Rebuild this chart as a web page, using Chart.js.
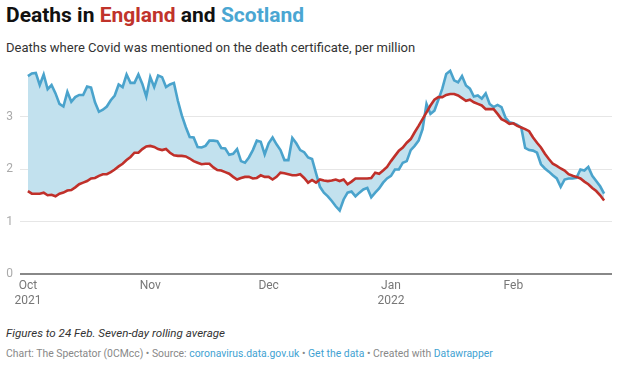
<!DOCTYPE html>
<html>
<head>
<meta charset="utf-8">
<script src="https://cdn.jsdelivr.net/npm/chart.js@4"></script>
<style>
  body { margin: 0; background: #fff; font-family: Roboto, sans-serif; }
  #wrap { position: relative; width: 620px; height: 370px; overflow: hidden; }
  .title { position: absolute; left: 6px; top: 3px; font-size: 21px; font-weight: 700; color: #111; white-space: nowrap; }
  .sub { position: absolute; left: 6px; top: 40px; font-size: 13px; color: #333; white-space: nowrap; }
  .note { position: absolute; left: 6px; top: 326px; font-size: 11.6px; font-style: italic; color: #333; white-space: nowrap; }
  .credit { position: absolute; left: 6px; top: 347px; font-size: 10.4px; color: #888; white-space: nowrap; }
  .credit a { color: #3fa2d2; text-decoration: none; }
  #box { position: absolute; left: 0; top: 58px; width: 620px; height: 250px; }
</style>
</head>
<body>
<div id="wrap">
  <div class="title">Deaths in <span style="color:#c0332b">England</span> and <span style="color:#4aa6d2">Scotland</span></div>
  <div class="sub">Deaths where Covid was mentioned on the death certificate, per million</div>
  <div id="box"><canvas id="chart"></canvas></div>
  <div class="note">Figures to 24 Feb. Seven-day rolling average</div>
  <div class="credit">Chart: The Spectator (0CMcc) • Source: <a>coronavirus.data.gov.uk</a> • <a>Get the data</a> • Created with <a>Datawrapper</a></div>
</div>
<script>
// days since 1 Oct 2021 (0 .. 146 = 24 Feb 2022)
const scotland = [
  3.77, 3.82, 3.83, 3.60, 3.80, 3.52, 3.60, 3.44, 3.24, 3.19,
  3.47, 3.28, 3.37, 3.41, 3.41, 3.57, 3.55, 3.27, 3.09, 3.13,
  3.19, 3.31, 3.40, 3.61, 3.56, 3.80, 3.64, 3.64, 3.80, 3.62,
  3.38, 3.75, 3.56, 3.78, 3.75, 3.56, 3.61, 3.64, 3.30, 3.02,
  2.80, 2.61, 2.60, 2.42, 2.41, 2.44, 2.54, 2.54, 2.53, 2.40,
  2.39, 2.27, 2.29, 2.38, 2.15, 2.12, 2.22, 2.36, 2.54, 2.52,
  2.28, 2.49, 2.60, 2.47, 2.36, 2.17, 2.17, 2.59, 2.49, 2.36,
  2.32, 2.22, 2.19, 1.92, 1.66, 1.55, 1.48, 1.39, 1.29, 1.21,
  1.42, 1.55, 1.57, 1.48, 1.55, 1.61, 1.64, 1.46, 1.55, 1.63,
  1.74, 1.82, 1.87, 1.99, 1.99, 2.12, 2.15, 2.36, 2.44, 2.54,
  2.76, 3.24, 3.05, 3.11, 3.32, 3.53, 3.81, 3.87, 3.69, 3.65,
  3.77, 3.59, 3.53, 3.38, 3.40, 3.34, 3.44, 3.24, 3.18, 3.22,
  3.18, 2.98, 2.89, 2.87, 2.84, 2.79, 2.40, 2.36, 2.35, 2.31,
  2.09, 2.01, 1.95, 1.88, 1.82, 1.66, 1.80, 1.82, 1.82, 1.83,
  1.99, 1.97, 2.04, 1.87, 1.77, 1.67, 1.53
];
const england = [
  1.58, 1.53, 1.53, 1.53, 1.55, 1.50, 1.51, 1.48, 1.53, 1.55,
  1.59, 1.60, 1.65, 1.71, 1.74, 1.77, 1.82, 1.83, 1.87, 1.90,
  1.90, 1.94, 1.99, 2.05, 2.10, 2.17, 2.23, 2.31, 2.31, 2.38,
  2.43, 2.44, 2.42, 2.38, 2.36, 2.38, 2.31, 2.26, 2.25, 2.25,
  2.24, 2.20, 2.15, 2.12, 2.09, 2.10, 2.10, 2.03, 1.98, 1.97,
  1.94, 1.91, 1.85, 1.80, 1.83, 1.85, 1.85, 1.82, 1.83, 1.88,
  1.85, 1.85, 1.80, 1.85, 1.93, 1.92, 1.90, 1.88, 1.88, 1.90,
  1.83, 1.74, 1.79, 1.74, 1.80, 1.78, 1.77, 1.78, 1.80, 1.77,
  1.80, 1.71, 1.76, 1.82, 1.82, 1.82, 1.82, 1.83, 1.93, 1.91,
  1.97, 2.04, 2.15, 2.25, 2.35, 2.41, 2.50, 2.57, 2.70, 2.82,
  2.95, 3.08, 3.21, 3.32, 3.37, 3.37, 3.41, 3.43, 3.43, 3.40,
  3.35, 3.30, 3.32, 3.27, 3.24, 3.21, 3.14, 3.14, 3.14, 3.05,
  2.95, 2.91, 2.86, 2.87, 2.82, 2.79, 2.76, 2.72, 2.60, 2.50,
  2.41, 2.29, 2.19, 2.10, 2.06, 2.01, 1.97, 1.90, 1.87, 1.85,
  1.82, 1.76, 1.71, 1.64, 1.58, 1.50, 1.40
];
const monthDays = [0, 31, 61, 92, 123];
const monthLabels = [['Oct', '2021'], ['Nov'], ['Dec'], ['Jan', '2022'], ['Feb']];
const yTicks = [0, 1, 2, 3];

const toPoints = arr => arr.map((v, i) => ({ x: i, y: v }));

new Chart(document.getElementById('chart'), {
  type: 'line',
  data: {
    datasets: [{
      label: 'England',
      data: toPoints(england),
      borderColor: '#c0302a',
      borderWidth: 2.6,
      pointRadius: 0,
      tension: 0,
      fill: false
    }, {
      label: 'Scotland',
      data: toPoints(scotland),
      borderColor: '#4aa3cc',
      borderWidth: 2.6,
      pointRadius: 0,
      tension: 0,
      fill: { target: 0, above: '#c2e1ee', below: '#c2e1ee' }
    }]
  },
  options: {
    responsive: true,
    maintainAspectRatio: false,
    animation: false,
    layout: { padding: { top: 6, right: 8, left: 0, bottom: 0 } },
    plugins: { legend: { display: false }, tooltip: { enabled: false } },
    scales: {
      x: {
        type: 'linear',
        min: -2,
        max: 148,
        afterBuildTicks: s => { s.ticks = monthDays.map(v => ({ value: v })); },
        afterFit: s => { s.height = 34; },
        grid: { display: false, drawTicks: false },
        border: { display: false },
        ticks: {
          autoSkip: false,
          maxRotation: 0,
          padding: 5,
          color: '#777',
          font: { family: 'Roboto', size: 12 },
          callback: (v, i) => monthLabels[i]
        }
      },
      y: {
        min: 0,
        max: 4,
        afterBuildTicks: s => { s.ticks = yTicks.map(v => ({ value: v })); },
        afterFit: s => { s.width = 20; s.paddingTop = 0; s.paddingBottom = 0; },
        border: { display: false },
        grid: {
          drawTicks: false,
          color: c => c.tick.value === 0 ? '#888' : '#e6e6e6',
          lineWidth: c => c.tick.value === 0 ? 2 : 1
        },
        ticks: {
          padding: 7,
          color: '#aaa',
          font: { family: 'Roboto', size: 12 }
        }
      }
    }
  }
});
</script>
</body>
</html>
